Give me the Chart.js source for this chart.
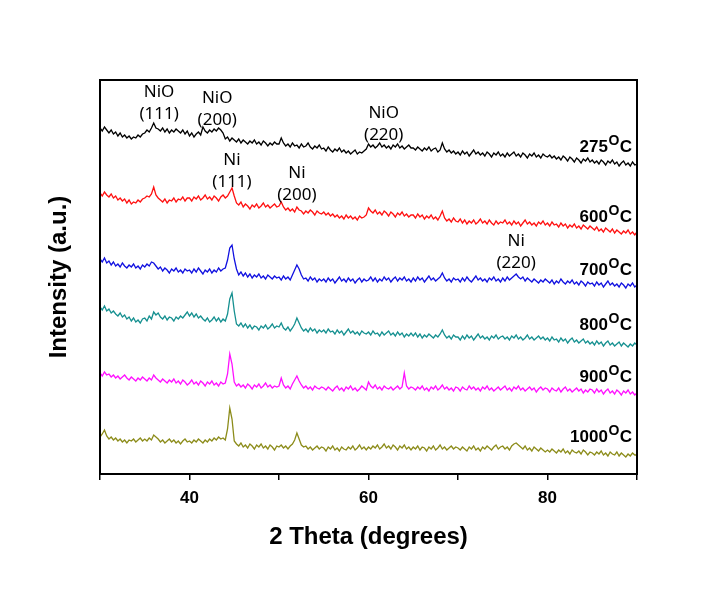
<!DOCTYPE html>
<html><head><meta charset="utf-8">
<script src="https://cdn.jsdelivr.net/npm/chart.js@4.4.1/dist/chart.umd.min.js"></script>
<style>html,body{margin:0;padding:0;background:#fff}canvas{display:block}</style>
</head><body>
<canvas id="c" width="715" height="589"></canvas>
<script>
// 2θ grid of the scans (degrees)
const twoThetaStart = 30;
const twoThetaStep = 0.25;
const xTickLabels = [40, 60, 80];

// Intensities (a.u., already offset for stacking), 30°..90° every 0.25°
const int275 = [
346,343,347,344,341,344,340,342,338,341,337,339,336,338,335,337,336,339,337,340,
341,344,342,346,351,346,345,343,346,342,345,341,344,342,345,343,341,344,340,343,
338,341,337,340,342,339,347,343,341,344,342,345,343,346,344,341,335,337,333,336,
334,332,335,331,334,332,330,333,331,334,330,332,329,333,331,328,331,329,332,330,
330,336,331,328,330,327,331,328,329,326,330,327,328,331,327,325,328,326,329,325,
326,323,327,324,322,325,323,326,322,324,321,323,320,322,324,320,322,321,323,325,
330,327,329,326,328,331,327,329,326,328,325,329,327,330,326,328,325,327,329,326,
326,324,327,325,323,326,324,327,323,325,326,322,324,331,325,322,324,321,323,320,
322,319,323,320,322,318,321,324,320,322,319,321,318,322,320,317,321,319,322,318,
320,317,321,318,320,322,318,320,317,321,319,316,320,318,321,317,319,316,320,318,
317,319,316,318,315,317,314,318,316,313,317,315,312,316,314,311,315,313,316,312,
314,311,313,310,314,312,309,313,311,314,310,312,308,311,313,309,311,308,312,309,
310];
const int600 = [
281,278,282,279,277,280,276,278,274,276,273,275,271,274,270,272,271,274,272,275,
276,278,277,280,287,279,276,274,272,275,271,274,273,276,272,275,274,277,273,276,
276,273,277,275,278,274,276,279,275,277,274,278,276,273,277,279,276,278,282,286,
278,271,269,272,267,270,268,265,269,267,270,266,268,271,267,269,266,268,270,267,
268,272,267,264,266,263,265,262,267,264,263,260,263,261,264,262,259,263,261,260,
262,259,261,258,260,257,259,256,258,255,259,256,258,255,257,254,258,256,257,259,
266,263,261,264,260,262,259,263,261,258,262,260,257,261,259,262,258,260,257,259,
259,256,260,257,259,255,258,256,259,255,257,254,258,263,256,253,255,252,256,253,
252,255,251,254,250,253,251,254,250,252,255,251,253,250,254,251,249,253,250,252,
251,254,250,252,249,253,250,252,248,251,254,250,252,249,251,248,252,250,253,249,
251,248,252,249,250,247,251,248,250,246,249,247,250,246,248,245,249,247,245,248,
246,244,247,243,245,242,246,244,242,245,241,244,242,240,243,241,244,240,242,239,
242];
const int700 = [
215,212,216,211,213,209,212,208,210,207,211,208,206,209,207,210,206,208,205,209,
207,210,208,212,211,208,205,207,203,206,204,201,205,203,206,202,204,201,205,203,
204,201,205,202,206,203,200,204,202,205,201,204,202,206,203,205,206,214,226,229,
215,205,199,202,198,201,197,200,196,199,197,200,196,198,195,199,197,195,198,196,
197,194,198,195,197,194,199,204,209,205,199,195,196,193,197,194,196,192,195,193,
195,192,196,193,195,191,194,197,193,195,192,196,193,195,191,194,196,192,195,193,
194,197,193,196,192,195,193,197,194,196,192,195,197,193,196,194,197,193,195,192,
196,193,197,194,196,192,195,198,194,196,193,195,197,201,196,193,195,192,196,194,
195,192,196,193,197,194,192,195,198,194,196,193,195,192,196,194,197,193,195,192,
196,193,197,194,196,198,200,197,195,197,193,196,194,192,195,193,191,194,192,195,
193,191,194,190,193,191,195,192,190,193,191,194,190,192,189,193,191,188,192,190,
191,188,192,189,191,187,190,193,189,191,188,190,187,191,189,186,190,188,191,187,
189];
const int800 = [
167,164,168,163,165,161,163,160,158,161,157,159,155,157,153,156,152,154,151,155,
156,153,158,155,162,159,161,157,155,158,154,157,156,153,157,155,158,156,159,162,
158,161,157,160,156,158,155,153,156,152,154,157,153,156,152,155,153,160,175,181,
163,150,148,151,147,150,146,149,145,148,147,144,148,146,149,145,147,150,146,148,
147,151,146,144,147,143,146,150,156,151,146,143,145,142,146,143,145,141,144,142,
144,141,145,142,143,140,144,141,143,139,142,145,141,143,140,142,139,143,141,140,
142,139,143,140,141,138,142,139,141,143,139,141,138,142,139,141,137,140,138,141,
138,141,137,140,136,139,137,140,138,136,139,137,140,144,139,136,138,135,139,137,
137,134,138,135,139,136,138,134,137,140,136,138,135,137,134,138,136,139,135,137,
138,135,137,134,138,136,139,135,137,134,136,139,135,137,134,136,138,135,137,134,
136,133,137,134,135,132,136,133,135,131,134,136,132,134,131,133,135,131,133,130,
132,129,133,130,132,128,131,133,129,131,128,130,132,128,131,129,127,130,128,131,
129];
const int900 = [
101,98,102,99,100,97,99,96,98,95,97,99,96,94,97,95,93,96,94,97,
95,93,96,94,99,96,94,92,95,93,91,94,92,95,91,93,90,94,92,89,
91,94,90,92,89,93,91,88,92,90,93,89,91,88,92,90,91,100,120,110,
92,88,90,87,89,86,90,88,85,89,87,90,86,88,91,87,89,86,88,87,
88,96,89,86,88,85,90,94,98,93,89,86,88,85,87,84,88,86,85,87,
86,84,87,85,83,86,88,84,86,83,87,85,88,84,86,83,85,88,86,84,
92,88,86,89,85,87,84,88,86,85,87,84,86,88,85,87,101,88,85,87,
86,84,87,85,88,84,86,83,87,85,88,84,86,89,85,87,84,86,83,87,
86,83,87,85,84,88,85,87,84,86,83,87,85,88,84,86,83,85,87,84,
86,88,84,86,83,87,85,88,84,86,83,85,87,84,86,82,85,87,84,86,
85,82,86,84,83,86,82,85,87,83,85,82,84,86,83,85,81,84,82,85,
84,81,85,82,84,80,83,85,81,83,80,84,82,79,83,81,84,80,82,79,
81];
const int1000 = [
37,40,44,38,35,37,34,36,33,35,32,34,31,34,33,35,32,34,36,33,
35,33,36,34,39,37,35,32,34,31,33,35,32,34,31,33,30,33,35,32,
33,31,34,32,35,33,31,34,32,35,33,36,34,37,35,36,34,45,66,55,
33,30,28,31,27,29,26,30,28,25,29,27,30,26,28,25,29,27,24,28,
27,29,26,28,25,28,30,34,41,35,29,27,28,25,27,24,26,28,25,27,
26,23,27,25,28,24,26,23,27,25,24,27,25,28,24,26,29,25,27,24,
27,25,28,26,29,25,27,30,26,28,25,29,27,24,28,26,29,25,27,24,
27,25,28,24,27,26,23,27,25,28,24,26,29,25,27,24,26,28,25,27,
26,24,27,25,23,27,25,28,24,26,23,27,25,28,26,24,27,29,25,27,
28,25,27,24,28,30,31,29,27,25,28,24,26,23,27,25,23,26,24,22,
24,22,25,23,21,24,22,25,21,23,20,24,22,21,23,20,24,22,19,22,
21,19,22,20,23,19,21,18,22,20,19,22,18,21,19,17,20,18,21,19,
19];

const seriesTemps = ['275', '600', '700', '800', '900', '1000'];
const seriesValues = [int275, int600, int700, int800, int900, int1000];
const seriesColors = ['#000000', '#ff1010', '#1010e0', '#159090', '#ff10ff', '#8c8c1a'];

// Reflection labels (text) and their anchors in data units (2θ, intensity)
const peakLabels = [['NiO','(111)'], ['NiO','(200)'], ['Ni','(111)'], ['NiO','(220)'], ['Ni','(200)'], ['Ni','(220)']];
const peakLabelX = [36.6, 43.1, 44.75, 61.7, 52.0, 76.5];
const peakLabelY = [377, 371, 309, 356, 296, 228];
// Temperature label anchors (right edge 2θ, baseline intensity)
const tempLabelX = 89.45;
const tempLabelY = [322, 252, 199, 144, 92, 32];

const FONT = '"Liberation Sans", Arial, Helvetica, sans-serif';

const datasets = seriesValues.map((vals, k) => ({
  label: seriesTemps[k] + ' °C',
  data: vals.map((v, i) => ({ x: twoThetaStart + i * twoThetaStep, y: v })),
  borderColor: seriesColors[k],
  borderWidth: 1.3,
  pointRadius: 0,
  tension: 0,
  fill: false
}));

const framePlugin = {
  id: 'frame',
  afterDraw(chart) {
    const { ctx, chartArea: a } = chart;
    ctx.save();
    ctx.strokeStyle = '#000';
    ctx.lineWidth = 2;
    ctx.strokeRect(a.left, a.top, a.right - a.left, a.bottom - a.top);
    ctx.restore();
  }
};

const labelPlugin = {
  id: 'labels',
  afterDatasetsDraw(chart) {
    const { ctx, scales: { x, y } } = chart;
    ctx.save();
    ctx.fillStyle = '#000';
    ctx.font = '17px "Noto Sans", "Open Sans", sans-serif';
    ctx.textAlign = 'center';
    ctx.textBaseline = 'alphabetic';
    peakLabels.forEach((lines, k) => {
      const px = x.getPixelForValue(peakLabelX[k]);
      const py = y.getPixelForValue(peakLabelY[k]);
      lines.forEach((t, j) => ctx.fillText(t, px, py + j * 22));
    });
    const big = 'bold 17px ' + FONT;
    const small = 'bold 14px ' + FONT;
    ctx.textAlign = 'left';
    const xr = x.getPixelForValue(tempLabelX);
    seriesTemps.forEach((t, k) => {
      const yb = y.getPixelForValue(tempLabelY[k]);
      ctx.font = big;
      const w1 = ctx.measureText(t).width;
      const w3 = ctx.measureText('C').width;
      ctx.font = small;
      const w2 = ctx.measureText('O').width;
      let px = xr - (w1 + w2 + w3 + 1);
      ctx.font = big; ctx.fillText(t, px, yb); px += w1 + 0.5;
      ctx.font = small; ctx.fillText('O', px, yb - 7); px += w2 + 0.5;
      ctx.font = big; ctx.fillText('C', px, yb);
    });
    ctx.restore();
  }
};

new Chart(document.getElementById('c'), {
  type: 'line',
  data: { datasets },
  options: {
    responsive: false,
    animation: false,
    devicePixelRatio: 1,
    layout: { padding: { top: 80, right: 78, left: 0, bottom: 0 } },
    plugins: { legend: { display: false }, tooltip: { enabled: false } },
    scales: {
      x: {
        type: 'linear', min: 30, max: 90,
        ticks: {
          stepSize: 10, autoSkip: false, maxRotation: 0, padding: 8, color: '#000',
          font: { family: FONT, size: 17, weight: 'bold' },
          callback: v => xTickLabels.includes(v) ? String(v) : ''
        },
        grid: { drawOnChartArea: false, drawTicks: true, tickLength: 6, color: '#000', lineWidth: 1.5 },
        border: { display: true, color: '#000', width: 2 },
        title: {
          display: true, text: '2 Theta (degrees)', color: '#000',
          font: { family: FONT, size: 24, weight: 'bold' },
          padding: { top: 0, bottom: 37 }
        },
        afterFit(s) { s.height = 115; }
      },
      y: {
        min: 0, max: 394,
        ticks: { display: false },
        grid: { display: false },
        border: { display: true, color: '#000', width: 2 },
        title: {
          display: true, text: 'Intensity (a.u.)', color: '#000',
          font: { family: FONT, size: 24, weight: 'bold' },
          padding: { top: 45, bottom: 0 }
        },
        afterFit(s) { s.width = 100; }
      }
    }
  },
  plugins: [framePlugin, labelPlugin]
});
</script>
</body></html>
